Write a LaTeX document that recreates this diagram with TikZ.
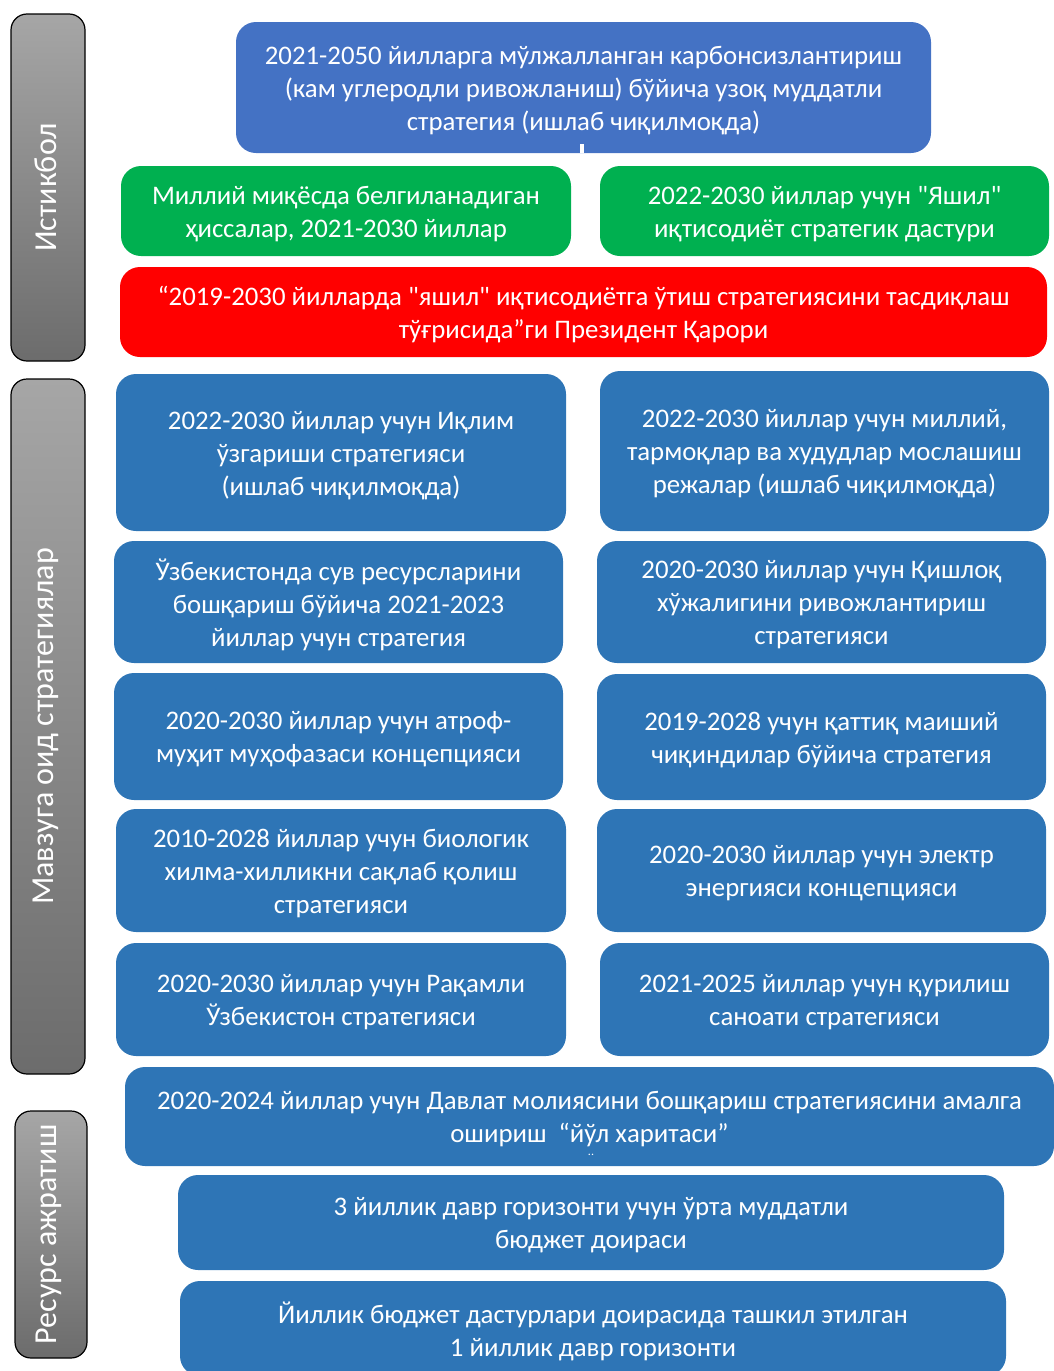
\documentclass[tikz,border=0pt]{standalone}
\usepackage{fontspec}
\newfontfamily\cf{Carlito}
\definecolor{cblue}{HTML}{2E75B6}
\definecolor{ctop}{HTML}{4472C4}
\definecolor{cgreen}{HTML}{00B050}
\definecolor{cred}{HTML}{FF0000}
\definecolor{gtop}{HTML}{A6A6A6}
\definecolor{gbot}{HTML}{6C6C6C}
\newcommand\mybox[7]{\node[#6, minimum width={(#4-#2)*0.5pt}, minimum height={(#5-#3)*0.5pt}] (#1) at ({(#2+#4)/2},{(#3+#5)/2}) {};
  \node[boxtext] (#1-t) at ([yshift=-1.5pt]#1.center) {#7};}
\tikzset{
  basebox/.style={rectangle, rounded corners=10pt, inner sep=0pt},
  boxtext/.style={inner sep=0pt, align=center, text=white, font=\cf\fontsize{13.4}{16.5}\selectfont},
  bluebox/.style={basebox, fill=cblue},
  topbox/.style={basebox, fill=ctop},
  greenbox/.style={basebox, fill=cgreen},
  redbox/.style={basebox, fill=cred},
  sidebox/.style={rectangle, rounded corners=8pt, inner sep=0pt, draw=black, line width=0.6pt,
    top color=gtop, bottom color=gbot},
  sidetext/.style={rotate=90, inner sep=0pt, text=white, font=\cf\fontsize{16}{19}\selectfont},
}
\begin{document}
\begin{tikzpicture}[x=0.5pt,y=-0.5pt]
\useasboundingbox (0,0) rectangle (1054,1371);
% side labels
\node[sidebox, minimum width=37pt, minimum height=173.5pt] (s1) at (48,187.5) {};
\node[sidetext] (s1t) at ([xshift=-1pt]s1.center) {Истикбол};
\node[sidebox, minimum width=37pt, minimum height=347.5pt] (s2) at (48,726.5) {};
\node[sidetext] (s2t) at ([xshift=-1pt]s2.center) {Мавзуга оид стратегиялар};
\node[sidebox, minimum width=36pt, minimum height=123.5pt] (s3) at (51,1234.5) {};
\node[sidetext] (s3t) at ([xshift=-1pt]s3.center) {Ресурс ажратиш};
% top
\mybox{top}{236}{22}{931}{153}{topbox}{2021-2050 йилларга мўлжалланган карбонсизлантириш\\(кам углеродли ривожланиш) бўйича узоқ муддатли\\стратегия (ишлаб чиқилмоқда)}
\draw[white, line width=2pt] ([xshift=-1pt,yshift=4.5pt]top.south) -- ([xshift=-1pt]top.south);
% green
\mybox{g1}{121}{166}{571}{256}{greenbox}{Миллий миқёсда белгиланадиган\\ҳиссалар, 2021-2030 йиллар}
\mybox{g2}{600}{166}{1049}{256}{greenbox}{2022-2030 йиллар учун "Яшил"\\иқтисодиёт стратегик дастури}
% red
\mybox{r1}{120}{267}{1047}{357}{redbox}{“2019-2030 йилларда "яшил" иқтисодиётга ўтиш стратегиясини тасдиқлаш\\тўғрисида”ги Президент Қарори}
% blue rows
\mybox{b1l}{116}{374}{566}{531}{bluebox}{2022-2030 йиллар учун Иқлим\\ўзгариши стратегияси\\(ишлаб чиқилмоқда)}
\mybox{b1r}{600}{371}{1049}{531}{bluebox}{2022-2030 йиллар учун миллий,\\тармоқлар ва худудлар мослашиш\\режалар (ишлаб чиқилмоқда)}
\mybox{b2l}{114}{541}{563}{663}{bluebox}{Ўзбекистонда сув ресурсларини\\бошқариш бўйича 2021-2023\\йиллар учун стратегия}
\mybox{b2r}{597}{541}{1046}{663}{bluebox}{2020-2030 йиллар учун Қишлоқ\\хўжалигини ривожлантириш\\стратегияси}
\mybox{b3l}{114}{673}{563}{800}{bluebox}{2020-2030 йиллар учун атроф-\\муҳит муҳофазаси концепцияси}
\mybox{b3r}{597}{674}{1046}{800}{bluebox}{2019-2028 учун қаттиқ маиший\\чиқиндилар бўйича стратегия}
\mybox{b4l}{116}{809}{566}{932}{bluebox}{2010-2028 йиллар учун биологик\\хилма-хилликни сақлаб қолиш\\стратегияси}
\mybox{b4r}{597}{809}{1046}{932}{bluebox}{2020-2030 йиллар учун электр\\энергияси концепцияси}
\mybox{b5l}{116}{943}{566}{1056}{bluebox}{2020-2030 йиллар учун Рақамли\\Ўзбекистон стратегияси}
\mybox{b5r}{600}{943}{1049}{1056}{bluebox}{2021-2025 йиллар учун қурилиш\\саноати стратегияси}
% resource
\mybox{w1}{125}{1067}{1054}{1166}{bluebox}{2020-2024 йиллар учун Давлат молиясини бошқариш стратегиясини амалга\\ошириш\ \ “йўл харитаси”}
\node[text=white, inner sep=0pt, font=\cf\fontsize{6}{6}\selectfont] (dots) at (591,1155) {..};
\mybox{m3}{178}{1175}{1004}{1270}{bluebox}{3 йиллик давр горизонти учун ўрта муддатли\\бюджет доираси}
\mybox{y1}{180}{1281}{1006}{1376}{bluebox}{Йиллик бюджет дастурлари доирасида ташкил этилган\\1 йиллик давр горизонти}
\end{tikzpicture}
\end{document}
